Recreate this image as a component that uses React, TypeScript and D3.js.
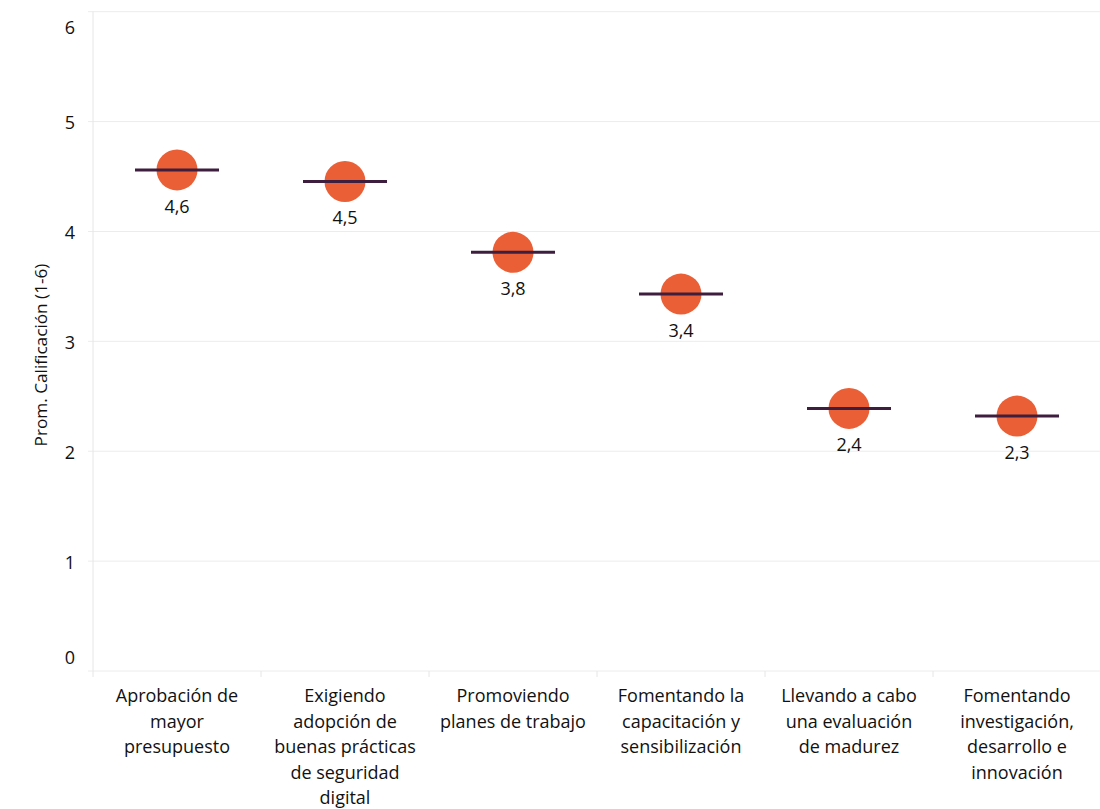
import React from "react";
import * as d3 from "d3";

const categories: string[][] = [
  ["Aprobación de", "mayor", "presupuesto"],
  ["Exigiendo", "adopción de", "buenas prácticas", "de seguridad", "digital"],
  ["Promoviendo", "planes de trabajo"],
  ["Fomentando la", "capacitación y", "sensibilización"],
  ["Llevando a cabo", "una evaluación", "de madurez"],
  ["Fomentando", "investigación,", "desarrollo e", "innovación"],
];
const values: number[] = [4.56, 4.455, 3.81, 3.43, 2.39, 2.32];
const yTicks: number[] = [0, 1, 2, 3, 4, 5, 6];
const yTitle = "Prom. Calificación (1-6)";

const W = 1100;
const H = 809;
const FONT = "'Open Sans', 'Noto Sans', sans-serif";

export default function App() {
  const keys = categories.map((_, i) => String(i));
  const x = d3.scaleBand<string>().domain(keys).range([93, 1101]);
  const y = d3.scaleLinear().domain([0, 6]).range([671, 11.7]);
  const fmt = (v: number) => d3.format(".1f")(v).replace(".", ",");
  const bw = x.bandwidth();
  // keep tick labels inside the plot's vertical extent
  const tickY = (t: number) =>
    Math.min(Math.max(y(t) + 1.5, y(6) + 16), y(0) - 13);

  return (
    <svg
      width={W}
      height={H}
      style={{ position: "absolute", left: 0, top: 0, background: "#fff" }}
      fontFamily={FONT}
    >
      {yTicks.map((t) => (
        <line
          key={"g" + t}
          x1={88}
          x2={1101}
          y1={y(t)}
          y2={y(t)}
          stroke="#ececec"
          strokeWidth={1}
        />
      ))}
      <line x1={93} x2={93} y1={y(6)} y2={677} stroke="#e6e6e6" strokeWidth={1} />
      {keys.map((k) => (
        <line
          key={"t" + k}
          x1={(x(k) as number) + bw}
          x2={(x(k) as number) + bw}
          y1={y(0)}
          y2={677}
          stroke="#e6e6e6"
          strokeWidth={1}
        />
      ))}
      {yTicks.map((t) => (
        <text
          key={"yl" + t}
          x={75}
          y={tickY(t)}
          dy="0.35em"
          textAnchor="end"
          fontSize={18}
          fill="#111"
        >
          {t}
        </text>
      ))}
      <text
        transform={`translate(47, 355) rotate(-90)`}
        textAnchor="middle"
        fontSize={17.2}
        fill="#111"
      >
        {yTitle}
      </text>
      {values.map((v, i) => {
        const cx = (x(keys[i]) as number) + bw / 2;
        const cy = y(v);
        return (
          <g key={"m" + i}>
            <circle cx={cx} cy={cy} r={20.5} fill="#EA5F36" />
            <line
              x1={cx - 42}
              x2={cx + 42}
              y1={cy}
              y2={cy}
              stroke="#3E1E3F"
              strokeWidth={3}
            />
            <text
              x={cx}
              y={cy + 43}
              textAnchor="middle"
              fontSize={18}
              fill="#111"
            >
              {fmt(v)}
            </text>
          </g>
        );
      })}
      {categories.map((lines, i) => {
        const cx = (x(keys[i]) as number) + bw / 2;
        return (
          <text
            key={"c" + i}
            x={cx}
            textAnchor="middle"
            fontSize={18}
            fill="#111"
          >
            {lines.map((l, j) => (
              <tspan key={j} x={cx} y={702 + j * 25.5}>
                {l}
              </tspan>
            ))}
          </text>
        );
      })}
    </svg>
  );
}
